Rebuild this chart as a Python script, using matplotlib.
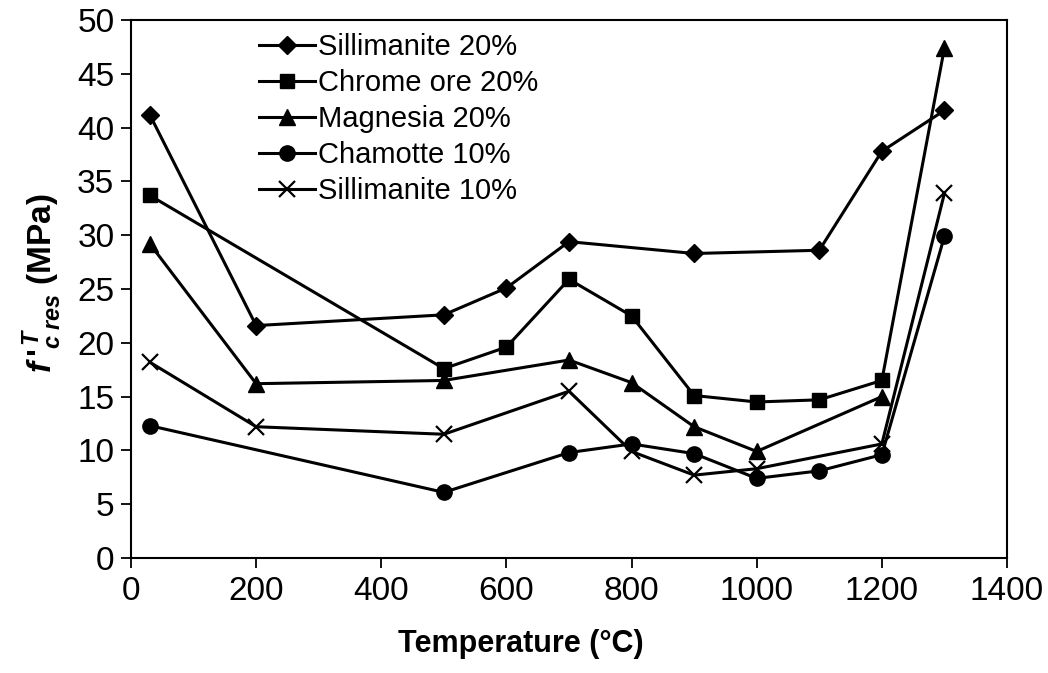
import numpy as np
import matplotlib
matplotlib.use("Agg")
import matplotlib.pyplot as plt

plt.rcParams['font.family'] = ['Liberation Sans', 'DejaVu Sans']
plt.rcParams['mathtext.fontset'] = 'custom'
plt.rcParams['mathtext.it'] = 'Liberation Sans:italic:bold'
plt.rcParams['mathtext.rm'] = 'Liberation Sans:bold'
plt.rcParams['mathtext.bf'] = 'Liberation Sans:bold'

nan = np.nan

# residual compressive strength after heating (MPa), blank = not tested
temps = [30, 200, 500, 600, 700, 800, 900, 1000, 1100, 1200, 1300]
sill20 = [41.2, 21.6, 22.6, 25.1, 29.4, nan, 28.3, nan, 28.6, 37.8, 41.6]
chrome20 = [33.7, nan, 17.6, 19.6, 25.9, 22.5, 15.1, 14.5, 14.7, 16.5, 47.4]
magnesia20 = [29.2, 16.2, 16.5, nan, 18.4, 16.3, 12.2, 9.9, nan, 15.0, 47.4]
chamotte10 = [12.3, nan, 6.1, nan, 9.8, 10.6, 9.7, 7.4, 8.1, 9.6, 29.9]
sill10 = [18.2, 12.2, 11.5, nan, 15.5, 9.9, 7.7, 8.3, nan, 10.6, 33.9]

labels = ['Sillimanite 20%', 'Chrome ore 20%', 'Magnesia 20%',
          'Chamotte 10%', 'Sillimanite 10%']


def clean(x, y):
    x = np.array(x, dtype=float)
    y = np.array(y, dtype=float)
    ok = ~np.isnan(y)
    return x[ok], y[ok]


fig = plt.figure(figsize=(10.48, 6.73), dpi=100)
ax = fig.add_axes([131 / 1048, 1 - 558 / 673, 876 / 1048, 538 / 673])

lw = 2.2
x, y = clean(temps, sill20)
ax.plot(x, y, color='black', lw=lw, marker='D', ms=9.5, label=labels[0])

# chrome ore line runs up to the 1300 value, marker there is the triangle
x, y = clean(temps, chrome20)
ax.plot(x, y, color='black', lw=lw, marker='s', ms=10,
        markevery=list(range(len(x) - 1)), label=labels[1])

# magnesia: last point shown as marker only
x, y = clean(temps, magnesia20)
ax.plot(x[:-1], y[:-1], color='black', lw=lw, marker='^', ms=11.5,
        label=labels[2])
ax.plot(x[-1:], y[-1:], color='black', ls='none', marker='^', ms=11.5)

x, y = clean(temps, chamotte10)
ax.plot(x, y, color='black', lw=lw, marker='o', ms=11, label=labels[3])

x, y = clean(temps, sill10)
ax.plot(x, y, color='black', lw=lw, marker='x', ms=11.5, mew=1.6,
        label=labels[4])

ax.set_xlim(0, 1400)
ax.set_ylim(0, 50)
ax.set_xticks(np.arange(0, 1401, 200))
ax.set_yticks(np.arange(0, 51, 5))
ax.tick_params(direction='out', length=7, width=1.3, labelsize=24)
ax.tick_params(axis='x', pad=6)
ax.tick_params(axis='y', pad=5)
for s in ax.spines.values():
    s.set_linewidth(1.5)

ax.set_xlabel('Temperature (°C)', fontsize=22, fontweight='bold')
ax.set_ylabel(r"$f\,'^{\,T}_{c\;res}$ (MPa)", fontsize=24, fontweight='bold')
ax.xaxis.set_label_coords(0.445, -0.132)
ax.yaxis.set_label_coords(-0.077, 0.51)

ax.legend(loc='upper left', bbox_to_anchor=(0.14, 0.986), frameon=False,
          fontsize=21, handlelength=1.9, handletextpad=0.1,
          labelspacing=0.27, borderaxespad=0, borderpad=0.2)

fig.savefig('out.png', dpi=100)
